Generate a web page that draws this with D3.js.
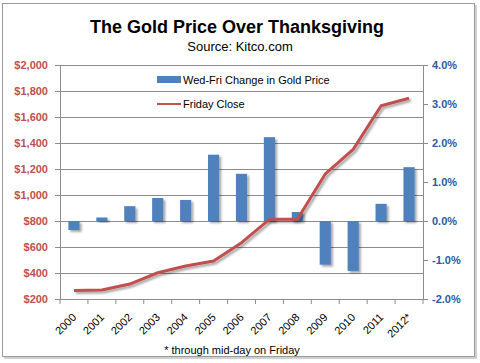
<!DOCTYPE html>
<html>
<head>
<meta charset="utf-8">
<script src="https://cdn.jsdelivr.net/npm/d3@7"></script>
<style>
body{margin:0;background:#fff;}
text{font-family:"Liberation Sans",Arial,sans-serif;}
</style>
</head>
<body>
<div class="canvas"></div>
<script>
const years=['2000','2001','2002','2003','2004','2005','2006','2007','2008','2009','2010','2011','2012*'];
const changePct=[-0.23,0.09,0.38,0.59,0.54,1.70,1.21,2.15,0.23,-1.12,-1.28,0.44,1.38];
const fridayClose=[265,269,315,402,454,492,633,813,813,1162,1351,1687,1744];
const priceTicks=[200,400,600,800,1000,1200,1400,1600,1800,2000];
const pctTicks=[-2,-1,0,1,2,3,4];

const svg=d3.select('.canvas')
  .append('svg')
  .attr('width',480)
  .attr('height',363);

// frame with a light shadow
svg.append('rect').attr('x',4).attr('y',5).attr('width',473).attr('height',354).attr('fill','#d0d0d0');
svg.append('rect').attr('x',2.5).attr('y',3.5).attr('width',472).attr('height',353)
  .attr('fill','#fff').attr('stroke','#9a9a9a');

const defs=svg.append('defs');
const f=defs.append('filter').attr('id','shadow').attr('x','-30%').attr('y','-30%').attr('width','180%').attr('height','180%');
f.append('feDropShadow').attr('dx',2).attr('dy',2).attr('stdDeviation',1.2).attr('flood-color','#000').attr('flood-opacity',0.35);

const margin={left:60,right:57,top:65,bottom:64};
const w=480-margin.left-margin.right;   // 363
const h=363-margin.top-margin.bottom;   // 234

const graph=svg.append('g').attr('transform',`translate(${margin.left},${margin.top})`);

const x=d3.scaleBand().domain(years).range([0,w]).paddingInner(0.6).paddingOuter(0.3);
const xTicks=d3.scaleBand().domain(years).range([0,w]);
const yL=d3.scaleLinear().domain([200,2000]).range([h,0]);
const yR=d3.scaleLinear().domain([-2,4]).range([h,0]);

// gridlines
graph.append('g').selectAll('line').data(priceTicks).enter().append('line')
  .attr('x1',0).attr('x2',w).attr('y1',d=>yL(d)).attr('y2',d=>yL(d))
  .attr('stroke','#8c8c8c').attr('stroke-width',1).attr('shape-rendering','crispEdges');

// bars
graph.append('g').selectAll('rect').data(changePct).enter().append('rect')
  .attr('x',(d,i)=>x(years[i]))
  .attr('width',x.bandwidth())
  .attr('y',d=>yR(Math.max(0,d)))
  .attr('height',d=>Math.abs(yR(d)-yR(0)))
  .attr('fill','#4f81bd')
  .attr('filter','url(#shadow)');

// line
const line=d3.line().x((d,i)=>xTicks(years[i])+xTicks.bandwidth()/2).y(d=>yL(d));
graph.append('path').datum(fridayClose)
  .attr('d',line).attr('fill','none').attr('stroke','#c0504d').attr('stroke-width',3)
  .attr('stroke-linejoin','round').attr('filter','url(#shadow)');

// axes
const xAxisGroup=graph.append('g').attr('transform',`translate(0,${h})`);
const xAxis=d3.axisBottom(xTicks).tickSize(5).tickSizeOuter(0);
xAxisGroup.call(xAxis);
xAxisGroup.selectAll('.tick line').attr('transform',`translate(${-xTicks.bandwidth()/2},0)`);
xAxisGroup.append('line').attr('x1',w).attr('x2',w).attr('y1',0).attr('y2',5).attr('stroke','#8c8c8c');
xAxisGroup.select('.domain').attr('stroke','#8c8c8c');
xAxisGroup.selectAll('.tick line').attr('stroke','#8c8c8c');
xAxisGroup.selectAll('text')
  .attr('font-size',11).attr('fill','#000')
  .attr('text-anchor','end')
  .attr('dy',null).attr('y',0)
  .attr('transform','translate(3,19) rotate(-45)');

const yAxisL=graph.append('g').call(d3.axisLeft(yL).tickValues(priceTicks).tickSize(5)
  .tickFormat(d=>'$'+d3.format(',')(d)).tickSizeOuter(0));
yAxisL.selectAll('.domain,.tick line').attr('stroke','#8c8c8c');
yAxisL.selectAll('text').attr('font-size',11).attr('font-weight','bold').attr('fill','#c0504d').attr('x',-12);

const yAxisR=graph.append('g').attr('transform',`translate(${w},0)`)
  .call(d3.axisRight(yR).tickValues(pctTicks).tickSize(5).tickFormat(d=>d.toFixed(1)+'%').tickSizeOuter(0));
yAxisR.selectAll('.domain,.tick line').attr('stroke','#8c8c8c');
yAxisR.selectAll('text').attr('font-size',11).attr('font-weight','bold').attr('fill','#2a5aa0').attr('x',9);

// titles
svg.append('text').attr('x',237).attr('y',33).attr('text-anchor','middle')
  .attr('font-size',18).attr('font-weight','bold').text('The Gold Price Over Thanksgiving');
svg.append('text').attr('x',240).attr('y',51).attr('text-anchor','middle')
  .attr('font-size',13).text('Source: Kitco.com');
svg.append('text').attr('x',232).attr('y',354).attr('text-anchor','middle')
  .attr('font-size',11).text('* through mid-day on Friday');

// legend
const leg=svg.append('g');
leg.append('rect').attr('x',157).attr('y',76).attr('width',24).attr('height',7).attr('fill','#4f81bd');
leg.append('text').attr('x',183).attr('y',84).attr('font-size',11).text('Wed-Fri Change in Gold Price');
leg.append('line').attr('x1',157).attr('x2',181).attr('y1',104).attr('y2',104).attr('stroke','#c0504d').attr('stroke-width',2);
leg.append('text').attr('x',183).attr('y',108).attr('font-size',11).text('Friday Close');
</script>
</body>
</html>
